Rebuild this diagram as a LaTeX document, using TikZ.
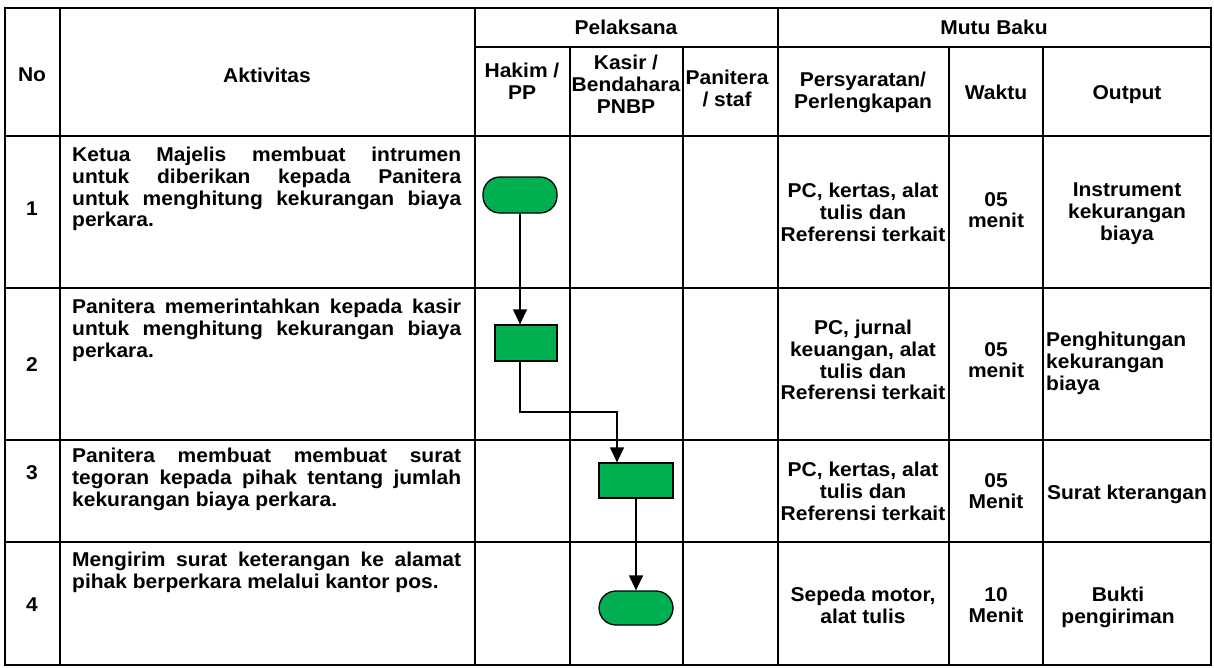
\documentclass[tikz,border=0pt]{standalone}
\usepackage{fontspec}
\setmainfont{Liberation Sans}[FakeStretch=1.05]
\usetikzlibrary{arrows.meta}
\definecolor{flowgreen}{RGB}{0,176,80}

\begin{document}
\begin{tikzpicture}[x=1pt,y=-1pt,
    font=\fontsize{20}{21.7}\selectfont\bfseries,
    grid/.style={line width=2.6pt},
    txt/.style={anchor=north,inner sep=0pt,align=center},
    act/.style={anchor=north west,inner sep=0pt,text width=389pt,align=justify},
    terminal/.style={draw,line width=1.3pt,fill=flowgreen,rounded corners=17pt,
        minimum width=74pt,minimum height=35pt,inner sep=0pt},
    process/.style={draw,line width=1.3pt,fill=flowgreen,
        minimum width=74pt,minimum height=35pt,inner sep=0pt},
    flow/.style={line width=1.3pt,-{Triangle[length=15pt,width=14pt]}}]
    \useasboundingbox (0,0) rectangle (1214,667);

    % Draw the outer frame and the table lines
    \draw[grid] (5,8) rectangle (1211,665);
    \draw[grid] (475,47) -- (1211,47);
    \foreach \y in {136,288,440,542}
        \draw[grid] (5,\y) -- (1211,\y);
    \foreach \x in {60,475,778}
        \draw[grid] (\x,8) -- (\x,665);
    \foreach \x in {570,683,949,1043}
        \draw[grid] (\x,47) -- (\x,665);

    % Header labels
    \node[txt] (hNo) at (32,68) {No};
    \node[txt] (hAkt) at (267,68) {Aktivitas};
    \node[txt] (hPel) at (626,20) {Pelaksana};
    \node[txt] (hMutu) at (994,20) {Mutu Baku};
    \node[txt] (hHakim) at (522,63) {Hakim /\\PP};
    \node[txt] (hKasir) at (626,55) {Kasir /\\Bendahara\\PNBP};
    \node[txt] (hPan) at (727,70) {Panitera\\/ staf};
    \node[txt] (hSyarat) at (863,72) {Persyaratan/\\Perlengkapan};
    \node[txt] (hWaktu) at (996,85) {Waktu};
    \node[txt] (hOut) at (1127,85) {Output};

    % Row numbers
    \node[txt] (n1) at (32,202) {1};
    \node[txt] (n2) at (32,357) {2};
    \node[txt] (n3) at (32,465) {3};
    \node[txt] (n4) at (32,598) {4};

    % Activities
    \node[act] (a1) at (72,147) {Ketua Majelis membuat intrumen\linebreak
        untuk diberikan kepada Panitera\linebreak
        untuk menghitung kekurangan biaya\linebreak perkara.};
    \node[act] (a2) at (72,299) {Panitera memerintahkan kepada kasir\linebreak
        untuk menghitung kekurangan biaya\linebreak perkara.};
    \node[act] (a3) at (72,448) {Panitera membuat membuat surat\linebreak
        tegoran kepada pihak tentang jumlah\linebreak kekurangan biaya perkara.};
    \node[act] (a4) at (72,552) {Mengirim surat keterangan ke alamat\linebreak
        pihak berperkara melalui kantor pos.};

    % Requirements, time and output
    \node[txt] (s1) at (863,183) {PC, kertas, alat\\tulis dan\\Referensi terkait};
    \node[txt] (s2) at (863,320) {PC, jurnal\\keuangan, alat\\tulis dan\\Referensi terkait};
    \node[txt] (s3) at (863,462) {PC, kertas, alat\\tulis dan\\Referensi terkait};
    \node[txt] (s4) at (863,587) {Sepeda motor,\\alat tulis};

    \node[txt] (w1) at (996,192) {05\\menit};
    \node[txt] (w2) at (996,342) {05\\menit};
    \node[txt] (w3) at (996,473) {05\\Menit};
    \node[txt] (w4) at (996,587) {10\\Menit};

    \node[txt] (o1) at (1127,183) {Instrument\\kekurangan\\biaya};
    \node[anchor=north west,inner sep=0pt,align=left] (o2) at (1046,332)
        {Penghitungan\\kekurangan\\biaya};
    \node[txt] (o3) at (1127,485) {Surat kterangan};
    \node[txt] (o4) at (1118,587) {Bukti\\pengiriman};

    % Flow shapes
    \node[terminal,minimum height=36pt] (t1) at (520,195) {};
    \node[process,minimum width=62pt,minimum height=36pt] (p2) at (526,343) {};
    \node[process] (p3) at (636,480.5) {};
    \node[terminal,minimum height=34pt] (t4) at (636,608) {};
    \coordinate (bend) at (617,412);

    % Connectors
    \draw[flow] (t1.south) -- (t1.south |- p2.north);
    \draw[flow] (t1 |- p2.south) |- (bend) -- (bend |- p3.north);
    \draw[flow] (p3) -- (t4);
\end{tikzpicture}
\end{document}
